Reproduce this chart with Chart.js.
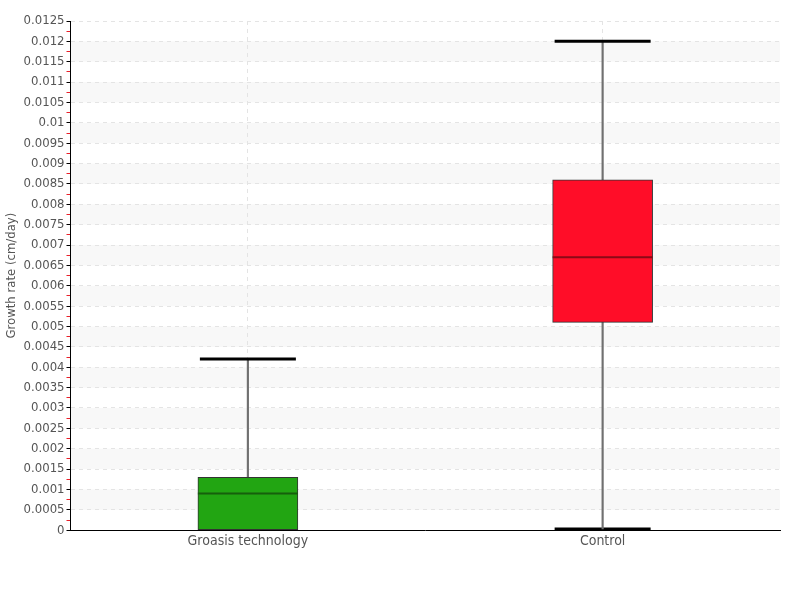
<!DOCTYPE html>
<html>
<head>
<meta charset="utf-8">
<script src="https://cdn.jsdelivr.net/npm/chart.js@4/dist/chart.umd.min.js"></script>
<style>
  html, body { margin: 0; padding: 0; background: #fff; }
  #wrap { width: 800px; height: 600px; }
</style>
</head>
<body>
<div id="wrap"><canvas id="growthChart" width="800" height="600"></canvas></div>
<script>
const categories = ['Groasis technology', 'Control'];
const whiskerMin = [0, 0.00003];
const lowerQuartile = [0, 0.0051];
const medians = [0.0009, 0.0067];
const upperQuartile = [0.0013, 0.0086];
const whiskerMax = [0.0042, 0.012];
const boxColors = ['#22a512', '#ff0d28'];
const medianColors = ['#165f0c', '#8a0a16'];

const fontFamily = '"Liberation Sans Narrow", "DejaVu Sans Condensed", "Roboto", sans-serif';
const textColor = '#555';
const STEP = 0.00025;
const isMajor = (v) => Math.round(v / STEP) % 2 === 0;

// light bands between every other pair of grid lines
const bandPlugin = {
    id: 'bands',
    beforeDraw(chart) {
        const { ctx, chartArea, scales } = chart;
        const y = scales.y;
        ctx.save();
        ctx.fillStyle = '#f8f8f8';
        for (let k = 1; k * 0.0005 < 0.0125; k += 2) {
            const top = y.getPixelForValue((k + 1) * 0.0005);
            const bottom = y.getPixelForValue(k * 0.0005);
            ctx.fillRect(chartArea.left, top, chartArea.right - chartArea.left, bottom - top);
        }
        ctx.restore();
    }
};

const chartNode = document.getElementById('growthChart').getContext('2d');

const data = {
    labels: categories,
    datasets: [
        {
            type: 'line',
            label: 'max',
            data: whiskerMax,
            showLine: false,
            pointStyle: 'line',
            pointRadius: 48,
            pointHoverRadius: 48,
            pointBorderWidth: 3,
            borderWidth: 3,
            pointBorderColor: '#000',
            borderColor: '#000',
            clip: false,
            order: 0
        },
        {
            type: 'line',
            label: 'median',
            data: medians,
            showLine: false,
            pointStyle: 'line',
            pointRadius: 50,
            pointHoverRadius: 50,
            pointBorderWidth: 2,
            borderWidth: 2,
            pointBorderColor: medianColors,
            borderColor: medianColors,
            clip: false,
            order: 1
        },
        {
            type: 'bar',
            label: 'box',
            data: categories.map((c, i) => [lowerQuartile[i], upperQuartile[i]]),
            backgroundColor: boxColors,
            borderColor: '#333',
            borderWidth: 1,
            borderSkipped: false,
            barThickness: 100,
            grouped: false,
            order: 2
        },
        {
            type: 'bar',
            label: 'whisker',
            data: categories.map((c, i) => [whiskerMin[i], whiskerMax[i]]),
            backgroundColor: '#707070',
            barThickness: 1.5,
            grouped: false,
            order: 3
        },
        {
            type: 'line',
            label: 'min',
            data: whiskerMin,
            showLine: false,
            pointStyle: 'line',
            pointRadius: 48,
            pointHoverRadius: 48,
            pointBorderWidth: 3,
            borderWidth: 3,
            pointBorderColor: '#000',
            borderColor: '#000',
            order: 4
        }
    ]
};

const config = {
    type: 'bar',
    data: data,
    plugins: [bandPlugin],
    options: {
        responsive: false,
        animation: false,
        layout: { autoPadding: false, padding: { top: 21, right: 20, bottom: 47, left: 2 } },
        plugins: {
            legend: { display: false },
            tooltip: { enabled: false }
        },
        scales: {
            x: {
                type: 'category',
                offset: true,
                grid: {
                    offset: false,
                    color: '#e4e4e4',
                    drawTicks: false
                },
                border: { color: '#000', width: 1, dash: [4, 4] },
                ticks: {
                    color: textColor,
                    padding: 3,
                    font: { family: fontFamily, size: 14 }
                }
            },
            y: {
                min: 0,
                max: 0.0125,
                grid: {
                    color: (ctx) => isMajor(ctx.tick.value) ? '#e4e4e4' : 'rgba(0,0,0,0)',
                    tickColor: (ctx) => isMajor(ctx.tick.value) ? '#000' : '#e8202a',
                    tickLength: 4
                },
                border: { color: '#000', width: 1, dash: [4, 4] },
                ticks: {
                    stepSize: STEP,
                    autoSkip: false,
                    color: textColor,
                    padding: 2,
                    font: { family: fontFamily, size: 13 },
                    callback: (v) => isMajor(v) ? String(+v.toFixed(5)) : ''
                },
                title: {
                    display: true,
                    text: 'Growth rate (cm/day)',
                    color: textColor,
                    padding: 2,
                    font: { family: fontFamily, size: 13 }
                }
            }
        }
    }
};

const myChart = new Chart(chartNode, config);
</script>
</body>
</html>
